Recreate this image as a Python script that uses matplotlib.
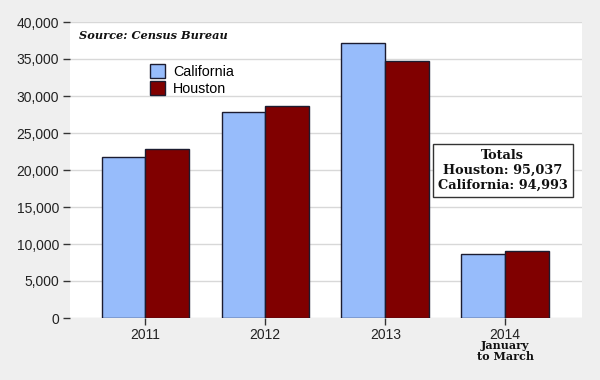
import numpy as np
from matplotlib import pyplot as plt
from matplotlib.patches import Patch

# values
years = ["2011", "2012", "2013", "2014"]
california = [21800, 27800, 37100, 8600]
houston = [22900, 28700, 34700, 9100]
yticks = [0, 5000, 10000, 15000, 20000, 25000, 30000, 35000, 40000]
series_names = ["California", "Houston"]
totals_text = "Totals\nHouston: 95,037\nCalifornia: 94,993"
source_text = "Source: Census Bureau"
note_text = "January\nto March"

blue = "#97bcfb"
red = "#800000"
edge = "#1c1c30"

fig = plt.figure(figsize=(6, 3.8), dpi=100, facecolor="#efefef")
ax = fig.add_axes([70 / 600, 1 - 318 / 380, 512 / 600, 296 / 380])
ax.set_facecolor("white")

x = np.arange(len(years))
w = 0.365
ax.bar(x - w / 2, california, w, color=blue, edgecolor=edge, linewidth=1, zorder=3)
ax.bar(x + w / 2, houston, w, color=red, edgecolor=edge, linewidth=1, zorder=3)

ax.set_xlim(-0.628, 3.64)
ax.set_ylim(0, 40000)
ax.set_yticks(yticks)
ax.set_yticklabels([f"{v:,}" for v in yticks], fontsize=10, color="#222222",
                   family="Liberation Sans")
ax.set_xticks(x)
ax.set_xticklabels(years, fontsize=10, color="#222222", family="Liberation Sans")
ax.tick_params(axis="y", length=5, width=1, color="#333333", pad=3)
ax.tick_params(axis="x", length=5, width=1, color="#333333", pad=2)
ax.grid(axis="y", color="#d8d8d8", linewidth=1, zorder=0)
for s in ax.spines.values():
    s.set_visible(False)

handles = [Patch(facecolor=blue, edgecolor=edge, label=series_names[0]),
           Patch(facecolor=red, edgecolor=edge, label=series_names[1])]
ax.legend(handles=handles, loc="upper left", bbox_to_anchor=(0.145, 0.878),
          frameon=False, prop={"family": "Liberation Sans", "size": 10.3},
          handlelength=1.05, handleheight=1.15, handletextpad=0.55, labelspacing=0.15,
          borderaxespad=0)

ax.text(0.018, 0.972, source_text, transform=ax.transAxes, fontsize=8.2,
        family="DejaVu Serif", fontweight="bold", style="italic", va="top",
        color="#111111")

ax.text(0.845, 0.498, totals_text, transform=ax.transAxes, fontsize=9.3,
        family="DejaVu Serif", fontweight="bold", ha="center", va="center",
        linespacing=1.2, color="#111111", zorder=5,
        bbox=dict(boxstyle="square,pad=0.4", facecolor="white",
                  edgecolor="#333333", linewidth=1))

ax.text(3, -0.075, note_text, transform=ax.get_xaxis_transform(), fontsize=8,
        family="DejaVu Serif", fontweight="bold", ha="center", va="top",
        linespacing=1.0, color="#111111")

fig.savefig("out.png", dpi=100, facecolor=fig.get_facecolor())
